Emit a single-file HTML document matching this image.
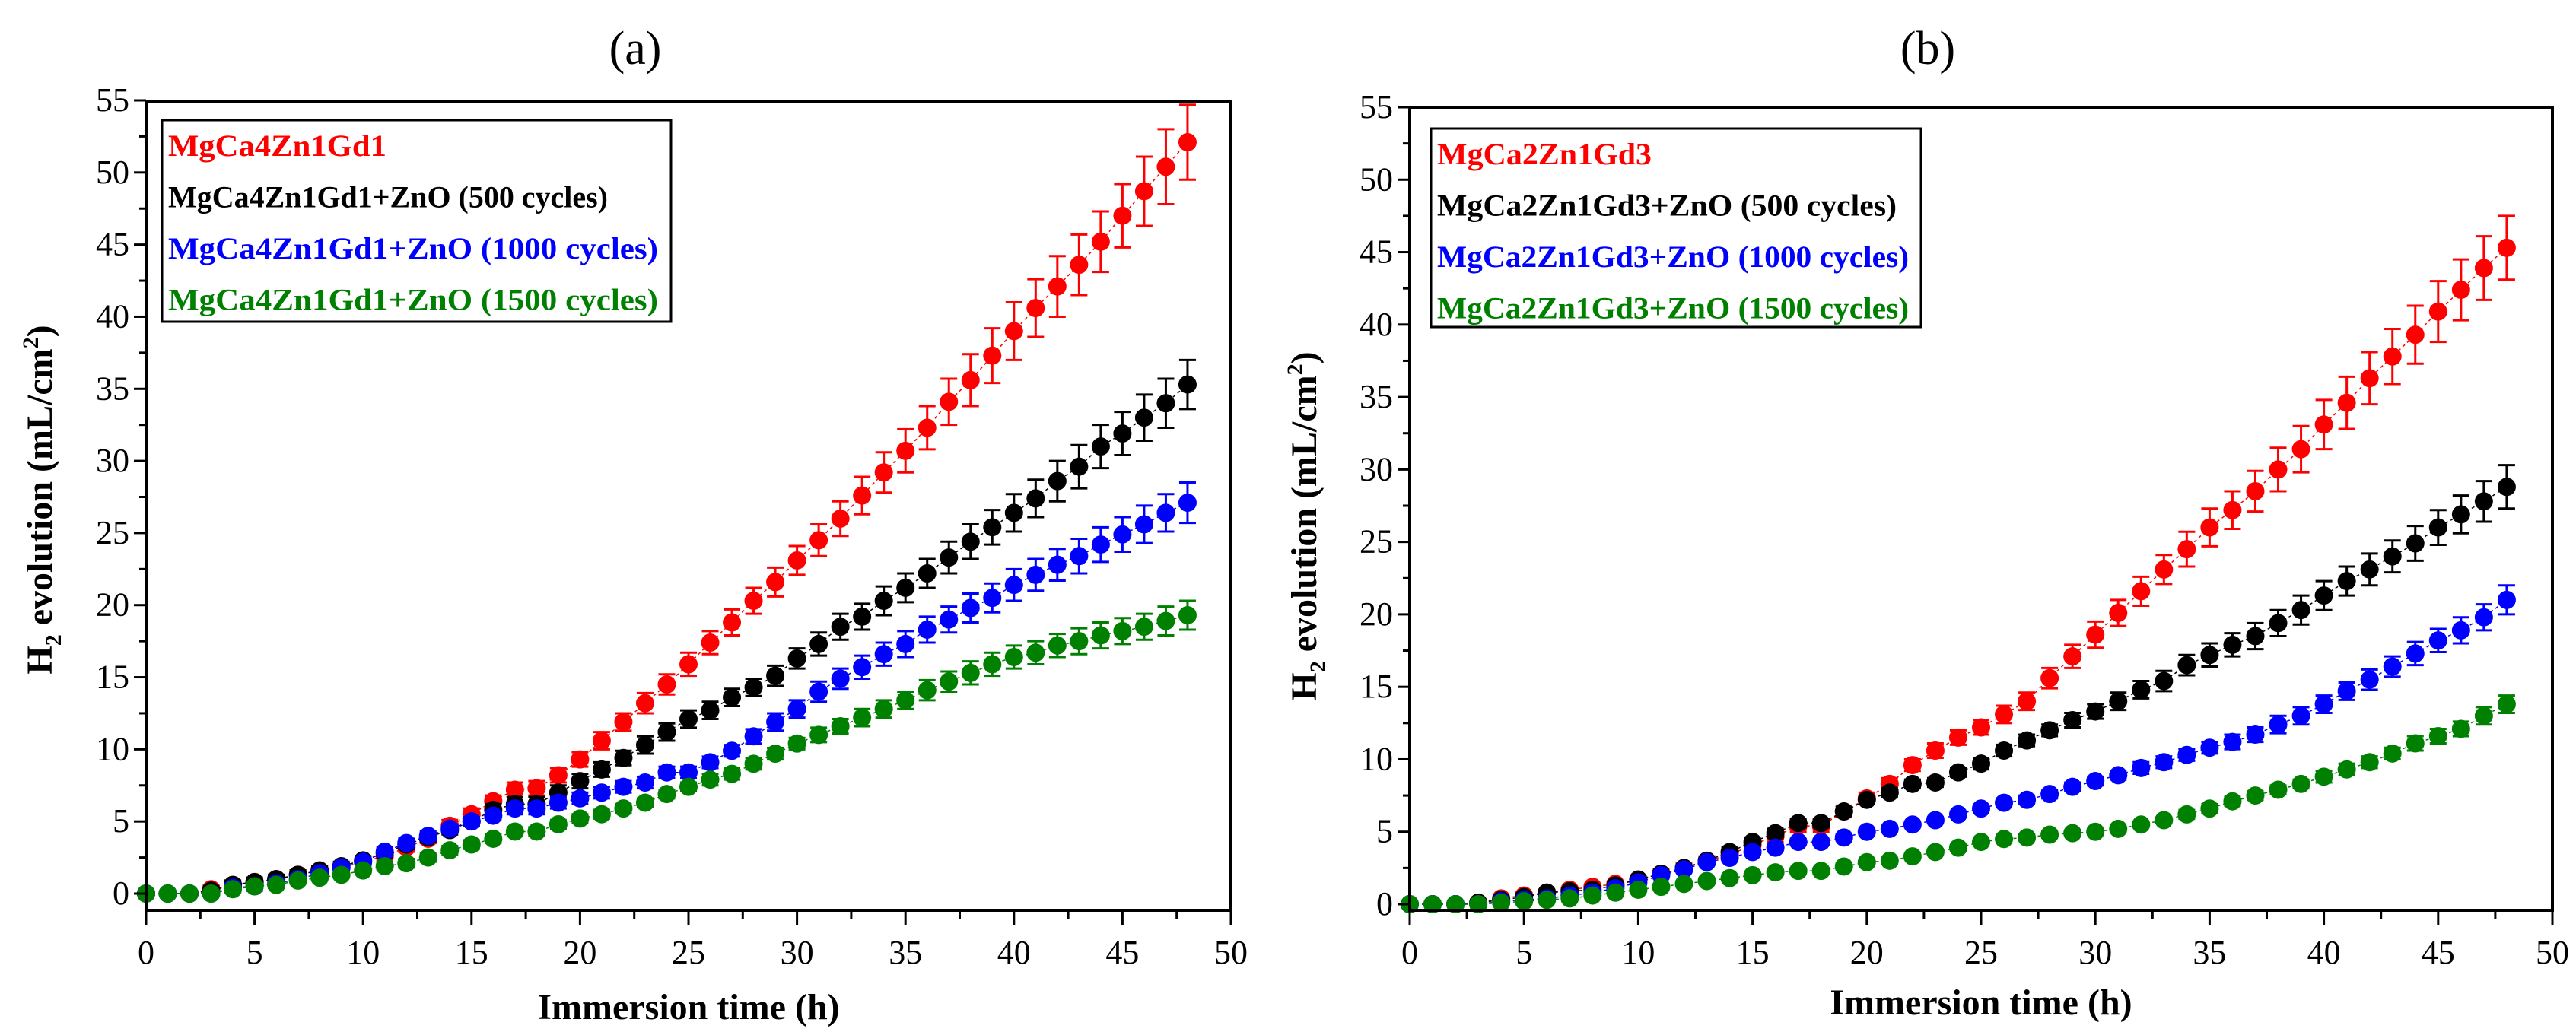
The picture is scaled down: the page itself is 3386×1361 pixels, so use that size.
<!DOCTYPE html>
<html><head><meta charset="utf-8"><style>
html,body{margin:0;padding:0;background:#fff;}
svg, svg text{font-family:"Liberation Serif",serif;}
</style></head><body>
<svg id="chart" width="3386" height="1356" viewBox="0 0 3386 1356" xmlns="http://www.w3.org/2000/svg" font-family="Liberation Serif, serif">
<rect width="3386" height="1356" fill="#fff"/>
</svg>
<script>
const hours = [0,1,2,3,4,5,6,7,8,9,10,11,12,13,14,15,16,17,18,19,20,21,22,23,24,25,26,27,28,29,30,31,32,33,34,35,36,37,38,39,40,41,42,43,44,45,46,47,48];
const xTicks = [0,5,10,15,20,25,30,35,40,45,50];
const yTicks = [0,5,10,15,20,25,30,35,40,45,50,55];
const seriesNamesA = ["MgCa4Zn1Gd1","MgCa4Zn1Gd1+ZnO (500 cycles)","MgCa4Zn1Gd1+ZnO (1000 cycles)","MgCa4Zn1Gd1+ZnO (1500 cycles)"];
const seriesNamesB = ["MgCa2Zn1Gd3","MgCa2Zn1Gd3+ZnO (500 cycles)","MgCa2Zn1Gd3+ZnO (1000 cycles)","MgCa2Zn1Gd3+ZnO (1500 cycles)"];
const colors = ["#ff0000","#000000","#0000ff","#008000"];
const aRed = [0,0,0,0.3,0.6,0.8,1.0,1.3,1.6,1.8,2.2,2.6,3.2,3.8,4.7,5.5,6.4,7.2,7.3,8.2,9.3,10.6,11.9,13.2,14.5,15.9,17.4,18.8,20.3,21.6,23.1,24.5,26.0,27.6,29.2,30.7,32.3,34.1,35.6,37.3,39.0,40.6,42.1,43.6,45.2,47.0,48.7,50.4,52.1];
const aBlack = [0,0,0,0.2,0.6,0.8,1.0,1.3,1.6,1.9,2.3,2.8,3.4,3.9,4.4,5.0,5.8,6.2,6.2,7.0,7.8,8.6,9.4,10.3,11.2,12.1,12.7,13.6,14.3,15.1,16.3,17.3,18.5,19.2,20.3,21.2,22.2,23.3,24.4,25.4,26.4,27.4,28.6,29.6,31.0,31.9,33.0,34.0,35.3];
const aBlue = [0,0,0,0,0.4,0.5,0.7,1.0,1.4,1.8,2.2,2.9,3.5,4.0,4.5,5.0,5.4,5.9,5.9,6.3,6.6,7.0,7.4,7.7,8.4,8.4,9.1,9.9,10.9,11.9,12.8,14.0,14.9,15.7,16.6,17.3,18.3,19.0,19.8,20.5,21.4,22.1,22.8,23.4,24.2,24.9,25.6,26.4,27.1];
const aGreen = [0,0,0,0,0.3,0.5,0.6,0.9,1.1,1.3,1.6,1.9,2.1,2.5,3.0,3.4,3.8,4.3,4.3,4.8,5.2,5.5,5.9,6.3,6.9,7.4,7.9,8.3,9.0,9.7,10.4,11.0,11.6,12.2,12.8,13.4,14.1,14.7,15.3,15.9,16.4,16.7,17.2,17.5,17.9,18.2,18.5,18.9,19.3];
const bRed = [0,0,0,0.1,0.4,0.6,0.8,1.0,1.2,1.4,1.7,2.1,2.5,3.0,3.4,4.1,4.7,5.4,5.4,6.4,7.3,8.3,9.6,10.6,11.5,12.2,13.1,14.0,15.6,17.1,18.6,20.1,21.6,23.1,24.5,26.0,27.2,28.5,30.0,31.4,33.1,34.6,36.3,37.8,39.3,40.9,42.4,43.9,45.3];
const bBlack = [0,0,0,0.1,0.3,0.5,0.8,0.9,1.0,1.3,1.7,2.1,2.5,3.0,3.6,4.3,4.9,5.6,5.6,6.4,7.2,7.7,8.3,8.4,9.1,9.7,10.6,11.3,12.0,12.7,13.3,14.0,14.8,15.4,16.5,17.2,17.9,18.5,19.4,20.3,21.3,22.3,23.1,24.0,24.9,26.0,26.9,27.8,28.8];
const bBlue = [0,0,0,0,0.2,0.3,0.4,0.6,0.8,1.1,1.5,2.0,2.4,2.9,3.2,3.6,3.9,4.3,4.3,4.6,5.0,5.2,5.5,5.8,6.2,6.6,7.0,7.2,7.6,8.1,8.5,8.9,9.4,9.8,10.3,10.8,11.2,11.7,12.4,13.0,13.8,14.7,15.5,16.4,17.3,18.2,18.9,19.8,21.0];
const bGreen = [0,0,0,0,0.1,0.2,0.3,0.4,0.6,0.8,1.0,1.2,1.4,1.6,1.8,2.0,2.2,2.3,2.3,2.6,2.9,3.0,3.3,3.6,3.9,4.3,4.5,4.6,4.8,4.9,5.0,5.2,5.5,5.8,6.2,6.6,7.1,7.5,7.9,8.3,8.8,9.3,9.8,10.4,11.1,11.6,12.1,13.0,13.8];
const aRedErr = [0.2,0.2,0.2,0.3,0.3,0.3,0.3,0.3,0.3,0.3,0.3,0.3,0.3,0.3,0.4,0.4,0.4,0.5,0.5,0.5,0.5,0.6,0.6,0.7,0.7,0.8,0.8,0.9,0.9,1.0,1.0,1.1,1.2,1.3,1.4,1.5,1.5,1.6,1.8,1.9,2.0,2.0,2.1,2.1,2.1,2.2,2.4,2.6,2.6];
const aBlackErr = [0.2,0.2,0.2,0.3,0.3,0.3,0.3,0.3,0.3,0.3,0.3,0.3,0.3,0.3,0.3,0.3,0.4,0.5,0.5,0.5,0.5,0.5,0.5,0.6,0.6,0.6,0.6,0.6,0.6,0.7,0.7,0.8,0.9,0.9,1.0,1.0,1.0,1.1,1.2,1.2,1.3,1.3,1.4,1.5,1.5,1.5,1.6,1.7,1.7];
const aBlueErr = [0.2,0.2,0.2,0.2,0.3,0.3,0.3,0.3,0.3,0.3,0.3,0.3,0.3,0.3,0.3,0.3,0.3,0.4,0.4,0.4,0.4,0.4,0.4,0.4,0.4,0.4,0.4,0.4,0.5,0.6,0.6,0.7,0.7,0.8,0.8,0.9,0.9,0.9,1.0,1.0,1.1,1.1,1.1,1.2,1.2,1.2,1.3,1.3,1.4];
const aGreenErr = [0.2,0.2,0.2,0.2,0.2,0.2,0.2,0.2,0.2,0.2,0.2,0.3,0.3,0.3,0.3,0.3,0.3,0.3,0.3,0.3,0.3,0.3,0.3,0.3,0.3,0.3,0.4,0.4,0.4,0.4,0.4,0.5,0.5,0.6,0.6,0.6,0.7,0.7,0.8,0.8,0.8,0.8,0.8,0.9,0.9,0.9,0.9,1.0,1.0];
const bRedErr = [0.1,0.1,0.1,0.2,0.2,0.2,0.2,0.2,0.2,0.2,0.2,0.3,0.3,0.3,0.3,0.4,0.4,0.4,0.4,0.4,0.4,0.4,0.4,0.5,0.5,0.5,0.6,0.6,0.7,0.8,0.9,0.9,1.0,1.0,1.2,1.3,1.3,1.4,1.5,1.6,1.7,1.8,1.8,1.9,2.0,2.1,2.1,2.2,2.2];
const bBlackErr = [0.1,0.1,0.1,0.2,0.2,0.2,0.2,0.2,0.2,0.2,0.2,0.2,0.2,0.2,0.3,0.3,0.3,0.3,0.3,0.3,0.3,0.3,0.3,0.3,0.3,0.4,0.4,0.4,0.4,0.5,0.5,0.6,0.6,0.7,0.7,0.8,0.8,0.9,0.9,1.0,1.0,1.0,1.1,1.1,1.2,1.2,1.3,1.4,1.5];
const bBlueErr = [0.1,0.1,0.1,0.1,0.1,0.2,0.2,0.2,0.2,0.2,0.2,0.2,0.2,0.2,0.2,0.2,0.2,0.2,0.2,0.2,0.2,0.2,0.2,0.2,0.2,0.2,0.3,0.3,0.3,0.3,0.3,0.3,0.4,0.4,0.4,0.4,0.5,0.5,0.6,0.6,0.6,0.6,0.7,0.7,0.8,0.8,0.9,0.9,1.0];
const bGreenErr = [0.1,0.1,0.1,0.1,0.1,0.1,0.1,0.1,0.1,0.1,0.1,0.1,0.2,0.2,0.2,0.2,0.2,0.2,0.2,0.2,0.2,0.2,0.2,0.2,0.2,0.2,0.2,0.2,0.2,0.2,0.2,0.2,0.2,0.2,0.3,0.3,0.3,0.3,0.3,0.3,0.4,0.4,0.4,0.4,0.5,0.5,0.5,0.6,0.6];

const NS = "http://www.w3.org/2000/svg";
const svg = document.getElementById("chart");
const FONT = "Liberation Serif, serif";
function mk(tag, parent, attrs){ const e=document.createElementNS(NS,tag); for(const k in attrs) e.setAttribute(k,attrs[k]); if(tag==="text") e.setAttribute("font-family", FONT); parent.appendChild(e); return e; }

function panel(cfg){
  const g = mk("g", svg, {});
  
  
  const xs = v => cfg.left + (v - 0) / 50 * (cfg.right - cfg.left);
  const ys = v => cfg.y0 - v / 55 * (cfg.y0 - cfg.y55);
  const t = mk("text", g, {x:cfg.titleX, y:84, "font-size":62, "text-anchor":"middle"});
  t.textContent = cfg.title;
  
  
  cfg.series.forEach((vals, si) => {
    const sg = mk("g", g, {});
    
    
    const col = colors[si];
    let d = "";
    vals.forEach((v,i)=>{ d += (i?"L":"M") + xs(hours[i]).toFixed(1) + " " + ys(v).toFixed(1); });
    mk("path", sg, {d:d, fill:"none", stroke:col, "stroke-width":1.5, "stroke-dasharray":"4 4"});
    vals.forEach((v,i)=>{
      const x = xs(hours[i]), e = cfg.errs[si][i];
      const y1 = ys(v+e), y2 = ys(v-e);
      mk("line", sg, {x1:x, x2:x, y1:y1, y2:y2, stroke:col, "stroke-width":3});
      mk("line", sg, {x1:x-11, x2:x+11, y1:y1, y2:y1, stroke:col, "stroke-width":3});
      mk("line", sg, {x1:x-11, x2:x+11, y1:y2, y2:y2, stroke:col, "stroke-width":3});
      const c = mk("circle", sg, {cx:x, cy:ys(v), r:12, fill:col});
      
      
    });
  });
  const fr = mk("rect", g, {x:cfg.left, y:cfg.top, width:cfg.right-cfg.left, height:cfg.bottom-cfg.top, fill:"none", stroke:"#000", "stroke-width":4});
  
  
  const xa = mk("g", g, {});
  
  
  xTicks.forEach(v=>{
    const x = xs(v);
    mk("line", xa, {x1:x, x2:x, y1:cfg.bottom, y2:cfg.bottom+20, stroke:"#000", "stroke-width":3});
    if (v<50) mk("line", xa, {x1:xs(v+2.5), x2:xs(v+2.5), y1:cfg.bottom, y2:cfg.bottom+12, stroke:"#000", "stroke-width":3});
    const tl = mk("text", xa, {x:x, y:cfg.bottom+70, "font-size":44, "text-anchor":"middle"});
    tl.textContent = v;
    
    
  });
  const xt = mk("text", xa, {x:(cfg.left+cfg.right)/2, y:cfg.xTitleY, "font-size":48, "font-weight":"bold", "text-anchor":"middle"});
  xt.textContent = "Immersion time (h)";
  
  
  const ya = mk("g", g, {});
  
  
  yTicks.forEach(v=>{
    const y = ys(v);
    mk("line", ya, {x1:cfg.left-16, x2:cfg.left, y1:y, y2:y, stroke:"#000", "stroke-width":3});
    if (v<55) mk("line", ya, {x1:cfg.left-9, x2:cfg.left, y1:ys(v+2.5), y2:ys(v+2.5), stroke:"#000", "stroke-width":3});
    const tl = mk("text", ya, {x:cfg.left-22, y:y+14, "font-size":44, "text-anchor":"end"});
    tl.textContent = v;
    
    
  });
  const yt = mk("text", ya, {x:0, y:0, "font-size":48, "font-weight":"bold", "text-anchor":"middle", transform:`translate(${cfg.yTitleX},${cfg.yTitleY}) rotate(-90)`});
  yt.innerHTML = 'H<tspan font-size="30" dy="12">2</tspan><tspan dy="-12"> evolution (mL/cm</tspan><tspan font-size="30" dy="-18">2</tspan><tspan dy="18">)</tspan>';
  
  
  const lg = mk("g", g, {});
  
  
  mk("rect", lg, {x:cfg.lx, y:cfg.ly, width:cfg.lw, height:cfg.lh, fill:"#fff", stroke:"#000", "stroke-width":3});
  cfg.names.forEach((n,i)=>{
    const lt = mk("text", lg, {x:cfg.lx+8, y:cfg.ly+47+i*67.5, "font-size":40, "font-weight":"bold", fill:colors[i], textLength:cfg.lens[i], lengthAdjust:"spacingAndGlyphs"});
    lt.textContent = n;
    
    
  });
}

panel({id:"panel-a", title:"(a)", titleX:835, left:192, right:1618, top:134, bottom:1197, y0:1175, y55:132,
  xTitleY:1340, yTitleX:68, yTitleY:657, names:seriesNamesA, lens:[287,578,644,644],
  lx:213, ly:158, lw:669, lh:265,
  series:[aRed,aBlack,aBlue,aGreen], errs:[aRedErr,aBlackErr,aBlueErr,aGreenErr]});
panel({id:"panel-b", title:"(b)", titleX:2534, left:1853, right:3355, top:141, bottom:1197, y0:1189, y55:141,
  xTitleY:1334, yTitleX:1730, yTitleY:692, names:seriesNamesB, lens:[282,604,620,620],
  lx:1881, ly:169, lw:644, lh:261,
  series:[bRed,bBlack,bBlue,bGreen], errs:[bRedErr,bBlackErr,bBlueErr,bGreenErr]});
</script>
</body></html>
